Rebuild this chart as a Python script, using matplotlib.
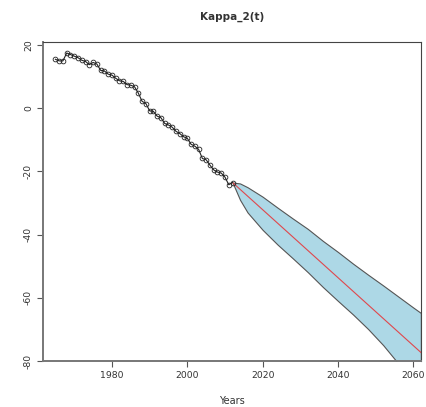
import matplotlib
matplotlib.use("Agg")
import matplotlib.pyplot as plt

# observed kappa_2(t)
years = list(range(1965, 2013))
kappa2 = [15.5, 15.0, 15.0, 17.5, 17.0, 16.5, 16.0, 15.2, 14.8, 13.8,
          14.5, 14.0, 12.0, 11.8, 10.8, 10.5, 9.5, 8.7, 8.5, 7.5,
          7.3, 6.8, 4.8, 2.2, 1.5, -0.8, -1.0, -2.5, -3.0, -4.8,
          -5.3, -6.0, -7.3, -8.0, -9.0, -9.5, -11.4, -12.0, -13.0, -15.9,
          -16.3, -18.0, -19.5, -20.2, -20.5, -21.8, -24.2, -23.5]

# forecast (mean line + interval)
fc_years = [2012, 2014, 2016, 2020, 2024, 2028, 2032, 2036, 2040,
            2044, 2048, 2052, 2056, 2060, 2062]
fc_upper = [-23.5, -23.8, -25.0, -28.0, -31.5, -34.9, -38.2, -42.0, -45.5,
            -49.2, -52.7, -56.1, -59.6, -63.1, -64.8]
fc_lower = [-23.5, -29.0, -33.0, -38.5, -43.2, -47.5, -51.9, -56.6, -61.0,
            -65.3, -69.9, -75.0, -80.8, -86.0, -89.0]
mean_years = [2012, 2037, 2062]
fc_mean = [-23.5, -50.4, -77.3]

xticks = [1980, 2000, 2020, 2040, 2060]
yticks = [20, 0, -20, -40, -60, -80]

fig = plt.figure(figsize=(4.26, 4.07), dpi=100)
ax = fig.add_axes([0.100, 0.113, 0.889, 0.784])

ax.fill_between(fc_years, fc_lower, fc_upper, facecolor="#add8e6",
                edgecolor="#555555", linewidth=0.8, zorder=1)
ax.plot([fc_years[-1], fc_years[-1]], [fc_lower[-1], fc_upper[-1]],
        color="#555555", lw=0.8, zorder=2)
ax.plot(mean_years, fc_mean, color="#e0474c", lw=0.8, zorder=3)
ax.plot(years, kappa2, color="#222222", lw=0.8, marker="o", markersize=3.4,
        markerfacecolor="none", markeredgewidth=0.6, zorder=4)

ax.set_xlim(1961.6, 2062.1)
ax.set_ylim(-80, 21)
ax.set_xticks(xticks)
ax.set_yticks(yticks)
ax.set_xticklabels([str(t) for t in xticks], fontsize=6.7, color="#333333")
ax.set_yticklabels([str(t) for t in yticks], fontsize=6.7, color="#333333",
                   rotation=90, va="center")
ax.tick_params(length=4, width=0.8, color="#555555", pad=3)
for s in ax.spines.values():
    s.set_color("#444444")
    s.set_linewidth(0.8)
ax.spines["left"].set_linewidth(1.4)
ax.spines["bottom"].set_linewidth(1.4)
ax.spines["left"].set_color("#777777")
ax.spines["bottom"].set_color("#777777")

ax.set_title("Kappa_2(t)", fontsize=7.5, fontweight="bold", color="#333333", pad=16)
ax.set_xlabel("Years", fontsize=7, color="#333333", labelpad=12)

fig.savefig("out.png", dpi=100)
